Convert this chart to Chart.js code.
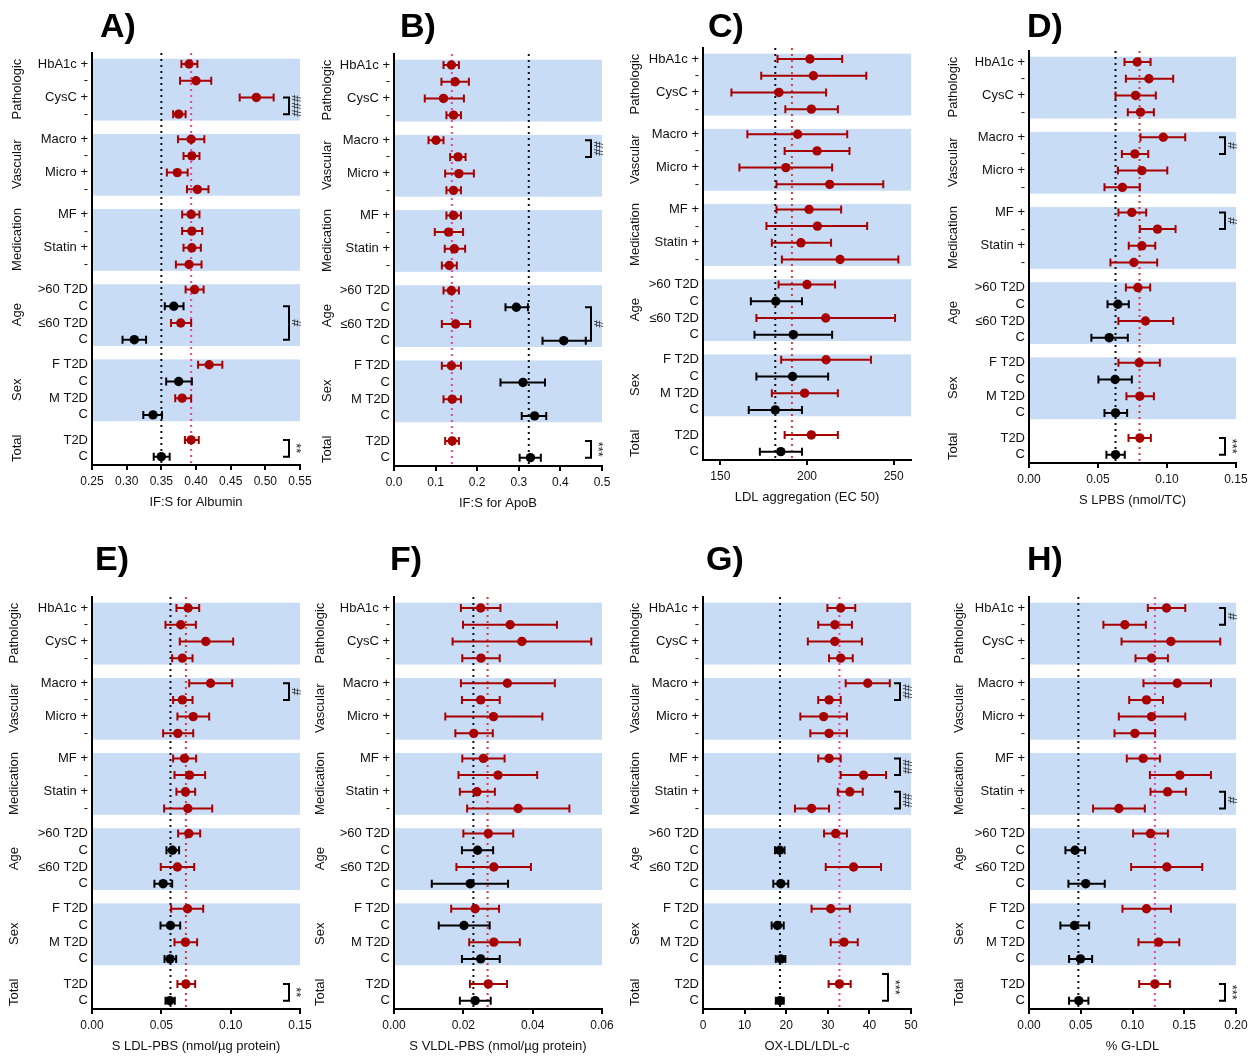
<!DOCTYPE html>
<html>
<head>
<meta charset="utf-8">
<script src="https://cdn.jsdelivr.net/npm/chart.js@4.4.0/dist/chart.umd.min.js"></script>
<style>
    body { margin: 0; background: #fff; }
    #page { position: relative; width: 1254px; height: 1057px; overflow: hidden; }
    #page canvas { position: absolute; }
</style>
</head>
<body>
<div id="page"></div>
<script>
// Rows and groups (same for every panel)
const groupNames = ['Pathologic', 'Vascular', 'Medication', 'Age', 'Sex', 'Total'];
const groupSizes = [4, 4, 4, 4, 4, 2];
const rowLabels = [
    'HbA1c +', '-', 'CysC +', '-',
    'Macro +', '-', 'Micro +', '-',
    'MF +', '-', 'Statin +', '-',
    '>60 T2D', 'C', '\u226460 T2D', 'C',
    'F T2D', 'C', 'M T2D', 'C',
    'T2D', 'C'
];

// A) IF:S for Albumin
const albuminMean = [0.390, 0.400, 0.487, 0.375, 0.393, 0.394, 0.373, 0.402, 0.393, 0.394, 0.394, 0.390, 0.398, 0.368, 0.378, 0.311, 0.419, 0.375, 0.380, 0.338, 0.393, 0.350];
const albuminLow = [0.379, 0.377, 0.463, 0.367, 0.374, 0.382, 0.358, 0.387, 0.380, 0.380, 0.382, 0.371, 0.385, 0.355, 0.364, 0.294, 0.403, 0.357, 0.370, 0.324, 0.384, 0.339];
const albuminHigh = [0.402, 0.422, 0.512, 0.385, 0.412, 0.405, 0.388, 0.418, 0.405, 0.409, 0.407, 0.408, 0.411, 0.382, 0.393, 0.328, 0.438, 0.394, 0.393, 0.351, 0.404, 0.362];
const albuminTicks = ['0.25', '0.30', '0.35', '0.40', '0.45', '0.50', '0.55'];

// B) IF:S for ApoB
const apoBMean = [0.138, 0.147, 0.119, 0.143, 0.101, 0.154, 0.156, 0.143, 0.143, 0.131, 0.145, 0.133, 0.138, 0.294, 0.148, 0.408, 0.138, 0.310, 0.140, 0.338, 0.140, 0.328];
const apoBLow = [0.119, 0.114, 0.074, 0.126, 0.083, 0.135, 0.123, 0.126, 0.126, 0.098, 0.122, 0.115, 0.119, 0.268, 0.115, 0.357, 0.115, 0.256, 0.119, 0.307, 0.123, 0.302];
const apoBHigh = [0.156, 0.180, 0.168, 0.161, 0.119, 0.172, 0.192, 0.161, 0.161, 0.166, 0.171, 0.151, 0.156, 0.322, 0.183, 0.461, 0.161, 0.363, 0.161, 0.366, 0.156, 0.353];
const apoBTicks = ['0.0', '0.1', '0.2', '0.3', '0.4', '0.5'];

// C) LDL aggregation (EC 50)
const ldlAggMean = [201.7, 203.7, 183.8, 202.5, 194.6, 205.8, 187.8, 213.1, 201.2, 206.0, 196.5, 219.1, 200.0, 182.0, 210.8, 192.1, 211.0, 191.7, 198.6, 181.7, 202.5, 184.9];
const ldlAggLow = [183.0, 173.6, 156.4, 187.5, 165.6, 187.1, 161.0, 182.4, 182.4, 176.6, 179.7, 185.5, 183.6, 167.6, 170.8, 169.7, 185.1, 170.8, 179.7, 166.4, 187.1, 172.8];
const ldlAggHigh = [220.3, 234.2, 211.0, 217.8, 223.2, 224.5, 214.5, 244.0, 219.7, 234.7, 213.9, 252.7, 216.2, 197.1, 250.8, 214.5, 236.9, 212.2, 217.8, 197.1, 217.8, 197.1];
const ldlAggTicks = ['150', '200', '250'];

// D) S LPBS (nmol/TC)
const lpbsMean = [0.0784, 0.0869, 0.0772, 0.0808, 0.0973, 0.0767, 0.0818, 0.0677, 0.0745, 0.0931, 0.0818, 0.0760, 0.0789, 0.0644, 0.0844, 0.0581, 0.0798, 0.0624, 0.0803, 0.0627, 0.0803, 0.0627];
const lpbsLow = [0.0692, 0.0702, 0.0627, 0.0716, 0.0808, 0.0673, 0.0644, 0.0547, 0.0648, 0.0803, 0.0723, 0.0590, 0.0702, 0.0569, 0.0648, 0.0452, 0.0648, 0.0503, 0.0706, 0.0547, 0.0721, 0.0561];
const lpbsHigh = [0.0881, 0.1045, 0.0919, 0.0905, 0.1132, 0.0864, 0.1002, 0.0803, 0.0849, 0.1062, 0.0915, 0.0929, 0.0878, 0.0723, 0.1045, 0.0716, 0.0948, 0.0745, 0.0905, 0.0711, 0.0883, 0.0694];
const lpbsTicks = ['0.00', '0.05', '0.10', '0.15'];

// E) S LDL-PBS (nmol/µg protein)
const ldlPbsMean = [0.0693, 0.0640, 0.0821, 0.0652, 0.0855, 0.0652, 0.0730, 0.0619, 0.0667, 0.0703, 0.0674, 0.0691, 0.0698, 0.0580, 0.0616, 0.0513, 0.0689, 0.0566, 0.0674, 0.0563, 0.0677, 0.0561];
const ldlPbsLow = [0.0609, 0.0530, 0.0633, 0.0578, 0.0701, 0.0585, 0.0616, 0.0513, 0.0585, 0.0595, 0.0609, 0.0520, 0.0621, 0.0537, 0.0496, 0.0450, 0.0571, 0.0494, 0.0595, 0.0523, 0.0616, 0.0530];
const ldlPbsHigh = [0.0773, 0.0749, 0.1018, 0.0725, 0.1011, 0.0725, 0.0845, 0.0730, 0.0751, 0.0816, 0.0744, 0.0867, 0.0780, 0.0628, 0.0737, 0.0578, 0.0802, 0.0636, 0.0758, 0.0607, 0.0744, 0.0597];
const ldlPbsTicks = ['0.00', '0.05', '0.10', '0.15'];

// F) S VLDL-PBS (nmol/µg protein)
const vldlPbsMean = [0.0250, 0.0335, 0.0369, 0.0251, 0.0327, 0.0250, 0.0287, 0.0230, 0.0258, 0.0300, 0.0239, 0.0358, 0.0272, 0.0241, 0.0288, 0.0220, 0.0234, 0.0202, 0.0288, 0.0250, 0.0272, 0.0234];
const vldlPbsLow = [0.0193, 0.0199, 0.0169, 0.0197, 0.0193, 0.0196, 0.0148, 0.0177, 0.0197, 0.0186, 0.0190, 0.0211, 0.0200, 0.0196, 0.0180, 0.0109, 0.0165, 0.0129, 0.0217, 0.0196, 0.0219, 0.0190];
const vldlPbsHigh = [0.0307, 0.0470, 0.0569, 0.0305, 0.0464, 0.0305, 0.0428, 0.0285, 0.0319, 0.0413, 0.0291, 0.0506, 0.0344, 0.0286, 0.0395, 0.0329, 0.0303, 0.0276, 0.0363, 0.0305, 0.0326, 0.0279];
const vldlPbsTicks = ['0.00', '0.02', '0.04', '0.06'];

// G) OX-LDL/LDL-c
const oxLdlMean = [33.1, 31.7, 31.7, 33.1, 39.6, 30.3, 29.0, 30.3, 30.3, 38.6, 35.3, 26.1, 31.9, 18.4, 36.2, 18.7, 30.7, 17.9, 33.9, 18.7, 32.8, 18.5];
const oxLdlLow = [29.9, 27.7, 25.2, 30.3, 34.3, 27.7, 23.4, 25.8, 27.7, 33.1, 32.4, 22.1, 29.1, 17.3, 29.5, 16.9, 26.1, 16.5, 30.7, 17.5, 30.2, 17.5];
const oxLdlHigh = [36.6, 35.8, 38.2, 36.0, 44.9, 33.1, 34.6, 34.6, 33.1, 44.0, 38.4, 30.3, 34.6, 19.6, 42.8, 20.5, 35.3, 19.4, 37.2, 19.8, 35.5, 19.4];
const oxLdlTicks = ['0', '10', '20', '30', '40', '50'];

// H) % G-LDL
const gLdlMean = [0.1329, 0.0926, 0.1371, 0.1184, 0.1432, 0.1135, 0.1184, 0.1023, 0.1103, 0.1458, 0.1339, 0.0868, 0.1174, 0.0445, 0.1332, 0.0548, 0.1135, 0.0439, 0.1252, 0.0497, 0.1216, 0.0481];
const gLdlLow = [0.1148, 0.0719, 0.0894, 0.1029, 0.1106, 0.0968, 0.0868, 0.0826, 0.0945, 0.1168, 0.1174, 0.0619, 0.1006, 0.0352, 0.0987, 0.0381, 0.0903, 0.0303, 0.1058, 0.0387, 0.1065, 0.0387];
const gLdlHigh = [0.1510, 0.1129, 0.1848, 0.1342, 0.1758, 0.1294, 0.1510, 0.1219, 0.1265, 0.1758, 0.1516, 0.1119, 0.1342, 0.0542, 0.1674, 0.0732, 0.1371, 0.0581, 0.1452, 0.0610, 0.1361, 0.0574];
const gLdlTicks = ['0.00', '0.05', '0.10', '0.15', '0.20'];

// Dotted reference lines, panels A..H
const refControl = [0.350, 0.324, 181.7, 0.0627, 0.0566, 0.0229, 18.5, 0.0477];
const refT2D = [0.393, 0.139, 191.3, 0.0801, 0.0677, 0.0270, 32.8, 0.1216];

const RED = '#a80000';
const PINK = '#e8439a';
const LINE_RED = '#d43c3c';
const BAND = '#c8dcf6';
const FONT = 'Arial, "Liberation Sans", Helvetica, sans-serif';

Chart.defaults.font.family = FONT;

// y position of each row: groups separated by half a row
const rowPos = [];
const groupFirst = [];
let p = 0;
groupSizes.forEach(n => {
    groupFirst.push(rowPos.length);
    for (let i = 0; i < n; i++) { rowPos.push(p); p++; }
    p += 0.5;
});

const panels = [
    { letter: 'A', title: 'IF:S for Albumin', mean: albuminMean, low: albuminLow, high: albuminHigh, ticks: albuminTicks,
      min: 0.25, max: 0.55, left: 92, top: 53, width: 208, rowTop: 0, titleX: 100, titleY: 37, groupOffset: 75, refColor: PINK,
      brackets: [{ from: 2, to: 3, text: '###' }, { from: 13, to: 15, text: '#' }, { from: 20, to: 21, text: '**' }] },
    { letter: 'B', title: 'IF:S for ApoB', mean: apoBMean, low: apoBLow, high: apoBHigh, ticks: apoBTicks,
      min: 0, max: 0.5, left: 394, top: 54, width: 208, rowTop: 0, titleX: 400, titleY: 37, groupOffset: 67, refColor: PINK,
      brackets: [{ from: 4, to: 5, text: '##' }, { from: 13, to: 15, text: '#' }, { from: 20, to: 21, text: '***' }] },
    { letter: 'C', title: 'LDL aggregation (EC 50)', mean: ldlAggMean, low: ldlAggLow, high: ldlAggHigh, ticks: ldlAggTicks,
      min: 140, max: 260, left: 703, top: 48, width: 208, rowTop: 0, titleX: 708, titleY: 37, groupOffset: 68, refColor: LINE_RED,
      brackets: [] },
    { letter: 'D', title: 'S LPBS (nmol/TC)', mean: lpbsMean, low: lpbsLow, high: lpbsHigh, ticks: lpbsTicks,
      min: 0, max: 0.15, left: 1029, top: 51, width: 207, rowTop: 0, titleX: 1027, titleY: 37, groupOffset: 76, refColor: LINE_RED,
      brackets: [{ from: 4, to: 5, text: '#' }, { from: 8, to: 9, text: '#' }, { from: 20, to: 21, text: '***' }] },
    { letter: 'E', title: 'S LDL-PBS (nmol/\u00b5g protein)', mean: ldlPbsMean, low: ldlPbsLow, high: ldlPbsHigh, ticks: ldlPbsTicks,
      min: 0, max: 0.15, left: 92, top: 597, width: 208, rowTop: 540, titleX: 95, titleY: 570, groupOffset: 78, refColor: LINE_RED,
      brackets: [{ from: 4, to: 5, text: '#' }, { from: 20, to: 21, text: '**' }] },
    { letter: 'F', title: 'S VLDL-PBS (nmol/\u00b5g protein)', mean: vldlPbsMean, low: vldlPbsLow, high: vldlPbsHigh, ticks: vldlPbsTicks,
      min: 0, max: 0.06, left: 394, top: 597, width: 208, rowTop: 540, titleX: 390, titleY: 570, groupOffset: 74, refColor: LINE_RED,
      brackets: [] },
    { letter: 'G', title: 'OX-LDL/LDL-c', mean: oxLdlMean, low: oxLdlLow, high: oxLdlHigh, ticks: oxLdlTicks,
      min: 0, max: 50, left: 703, top: 597, width: 208, rowTop: 540, titleX: 706, titleY: 570, groupOffset: 68, refColor: PINK,
      brackets: [{ from: 4, to: 5, text: '##' }, { from: 8, to: 9, text: '##' }, { from: 10, to: 11, text: '##' },
                 { from: 20, to: 21, text: '***', dx: -12, ext: 10 }] },
    { letter: 'H', title: '% G-LDL', mean: gLdlMean, low: gLdlLow, high: gLdlHigh, ticks: gLdlTicks,
      min: 0, max: 0.2, left: 1029, top: 597, width: 207, rowTop: 540, titleX: 1027, titleY: 570, groupOffset: 70, refColor: PINK,
      brackets: [{ from: 0, to: 1, text: '#' }, { from: 10, to: 11, text: '#' }, { from: 20, to: 21, text: '***' }] }
];

const rowColor = i => (rowLabels[i] === 'C' ? '#000' : RED);

function forestPlugin(cfg, idx, canvasLeft) {
    return {
        id: 'forest' + cfg.letter,
        beforeDraw(chart) {
            const { ctx, scales: { x, y } } = chart;
            ctx.save();
            ctx.fillStyle = BAND;
            groupNames.forEach((name, g) => {
                if (name === 'Total') return;
                const first = rowPos[groupFirst[g]];
                const last = rowPos[groupFirst[g] + groupSizes[g] - 1];
                const t = y.getPixelForValue(first - 0.32);
                const b = y.getPixelForValue(last + 0.38);
                ctx.fillRect(x.left, t, x.right - x.left, b - t);
            });
            ctx.restore();
        },
        beforeDatasetsDraw(chart) {
            const { ctx, chartArea, scales: { x, y } } = chart;
            ctx.save();
            // reference lines
            ctx.lineWidth = 2;
            ctx.setLineDash([2, 4]);
            [[refControl[idx], '#111'], [refT2D[idx], cfg.refColor]].forEach(([v, c]) => {
                const px = x.getPixelForValue(v);
                ctx.strokeStyle = c;
                ctx.beginPath();
                ctx.moveTo(px, chartArea.top);
                ctx.lineTo(px, chartArea.bottom);
                ctx.stroke();
            });
            ctx.setLineDash([]);
            // error bars
            rowPos.forEach((pos, i) => {
                const yy = y.getPixelForValue(pos);
                const x1 = x.getPixelForValue(cfg.low[i]);
                const x2 = x.getPixelForValue(cfg.high[i]);
                ctx.strokeStyle = rowColor(i);
                ctx.beginPath();
                ctx.moveTo(x1, yy); ctx.lineTo(x2, yy);
                ctx.moveTo(x1, yy - 4); ctx.lineTo(x1, yy + 4);
                ctx.moveTo(x2, yy - 4); ctx.lineTo(x2, yy + 4);
                ctx.stroke();
            });
            ctx.restore();
        },
        afterDraw(chart) {
            const { ctx, scales: { x, y } } = chart;
            ctx.save();
            // significance brackets
            cfg.brackets.forEach(b => {
                const y1 = y.getPixelForValue(rowPos[b.from]) - (b.ext || 0);
                const y2 = y.getPixelForValue(rowPos[b.to]);
                const bx = x.right - 11 + (b.dx || 0);
                ctx.strokeStyle = '#000';
                ctx.lineWidth = 2;
                ctx.beginPath();
                ctx.moveTo(bx - 6, y1); ctx.lineTo(bx, y1); ctx.lineTo(bx, y2); ctx.lineTo(bx - 6, y2);
                ctx.stroke();
                ctx.save();
                ctx.translate(bx + 7, (y1 + y2) / 2);
                ctx.rotate(Math.PI / 2);
                ctx.fillStyle = '#222';
                ctx.font = '13px ' + FONT;
                ctx.textAlign = 'center';
                ctx.textBaseline = 'middle';
                ctx.fillText(b.text, 0, 0);
                ctx.restore();
            });
            // group labels
            ctx.fillStyle = '#111';
            ctx.font = '13px ' + FONT;
            ctx.textAlign = 'center';
            ctx.textBaseline = 'middle';
            groupNames.forEach((name, g) => {
                const first = rowPos[groupFirst[g]];
                const last = rowPos[groupFirst[g] + groupSizes[g] - 1];
                ctx.save();
                ctx.translate(x.left - cfg.groupOffset, y.getPixelForValue((first + last) / 2));
                ctx.rotate(-Math.PI / 2);
                ctx.fillText(name, 0, 0);
                ctx.restore();
            });
            // panel letter
            ctx.fillStyle = '#000';
            ctx.font = 'bold 34px ' + FONT;
            ctx.textAlign = 'left';
            ctx.textBaseline = 'alphabetic';
            ctx.fillText(cfg.letter + ')', cfg.titleX - canvasLeft, cfg.titleY - cfg.rowTop);
            ctx.restore();
        }
    };
}

function makePanel(cfg, idx) {
    const page = document.getElementById('page');
    const yWidth = 92, rightPad = 16, xHeight = 48, plotHeight = 412;
    const padTop = cfg.top - cfg.rowTop;
    const w = yWidth + cfg.width + rightPad;
    const h = padTop + plotHeight + xHeight;
    const canvasLeft = cfg.left - yWidth;
    const canvas = document.createElement('canvas');
    canvas.width = w;
    canvas.height = h;
    canvas.style.width = w + 'px';
    canvas.style.height = h + 'px';
    canvas.style.left = canvasLeft + 'px';
    canvas.style.top = cfg.rowTop + 'px';
    page.appendChild(canvas);

    const tickValues = cfg.ticks.map(Number);

    new Chart(canvas, {
        type: 'scatter',
        data: {
            datasets: [{
                data: rowPos.map((pos, i) => ({ x: cfg.mean[i], y: pos })),
                pointBackgroundColor: rowPos.map((pos, i) => rowColor(i)),
                pointBorderWidth: 0,
                pointRadius: 4.7,
                clip: false
            }]
        },
        options: {
            responsive: false,
            animation: false,
            devicePixelRatio: 1,
            events: [],
            layout: { padding: { left: 0, right: rightPad, top: padTop, bottom: 0 } },
            plugins: { legend: { display: false }, tooltip: { enabled: false } },
            scales: {
                x: {
                    type: 'linear',
                    position: 'bottom',
                    min: cfg.min,
                    max: cfg.max,
                    afterBuildTicks: axis => { axis.ticks = tickValues.map(v => ({ value: v })); },
                    afterFit: axis => { axis.height = xHeight; },
                    ticks: {
                        callback: (v, i) => cfg.ticks[i],
                        autoSkip: false,
                        maxRotation: 0,
                        color: '#111',
                        padding: 4,
                        font: { size: 12 }
                    },
                    grid: { display: true, drawOnChartArea: false, drawTicks: true, tickLength: 5, lineWidth: 2, color: '#000' },
                    border: { display: true, color: '#000', width: 2 },
                    title: { display: true, text: cfg.title, color: '#111', font: { size: 13 }, padding: { top: 0, bottom: 2.5 } }
                },
                y: {
                    type: 'linear',
                    min: -0.66,
                    max: 24,
                    reverse: true,
                    afterBuildTicks: axis => { axis.ticks = rowPos.map(v => ({ value: v })); },
                    afterFit: axis => { axis.width = yWidth; },
                    ticks: {
                        callback: (v, i) => rowLabels[i],
                        autoSkip: false,
                        color: '#111',
                        padding: 4,
                        font: { size: 13 }
                    },
                    grid: { display: false, drawTicks: false },
                    border: { display: true, color: '#000', width: 2 }
                }
            }
        },
        plugins: [forestPlugin(cfg, idx, canvasLeft)]
    });
}

panels.forEach((cfg, idx) => makePanel(cfg, idx));
</script>
</body>
</html>
